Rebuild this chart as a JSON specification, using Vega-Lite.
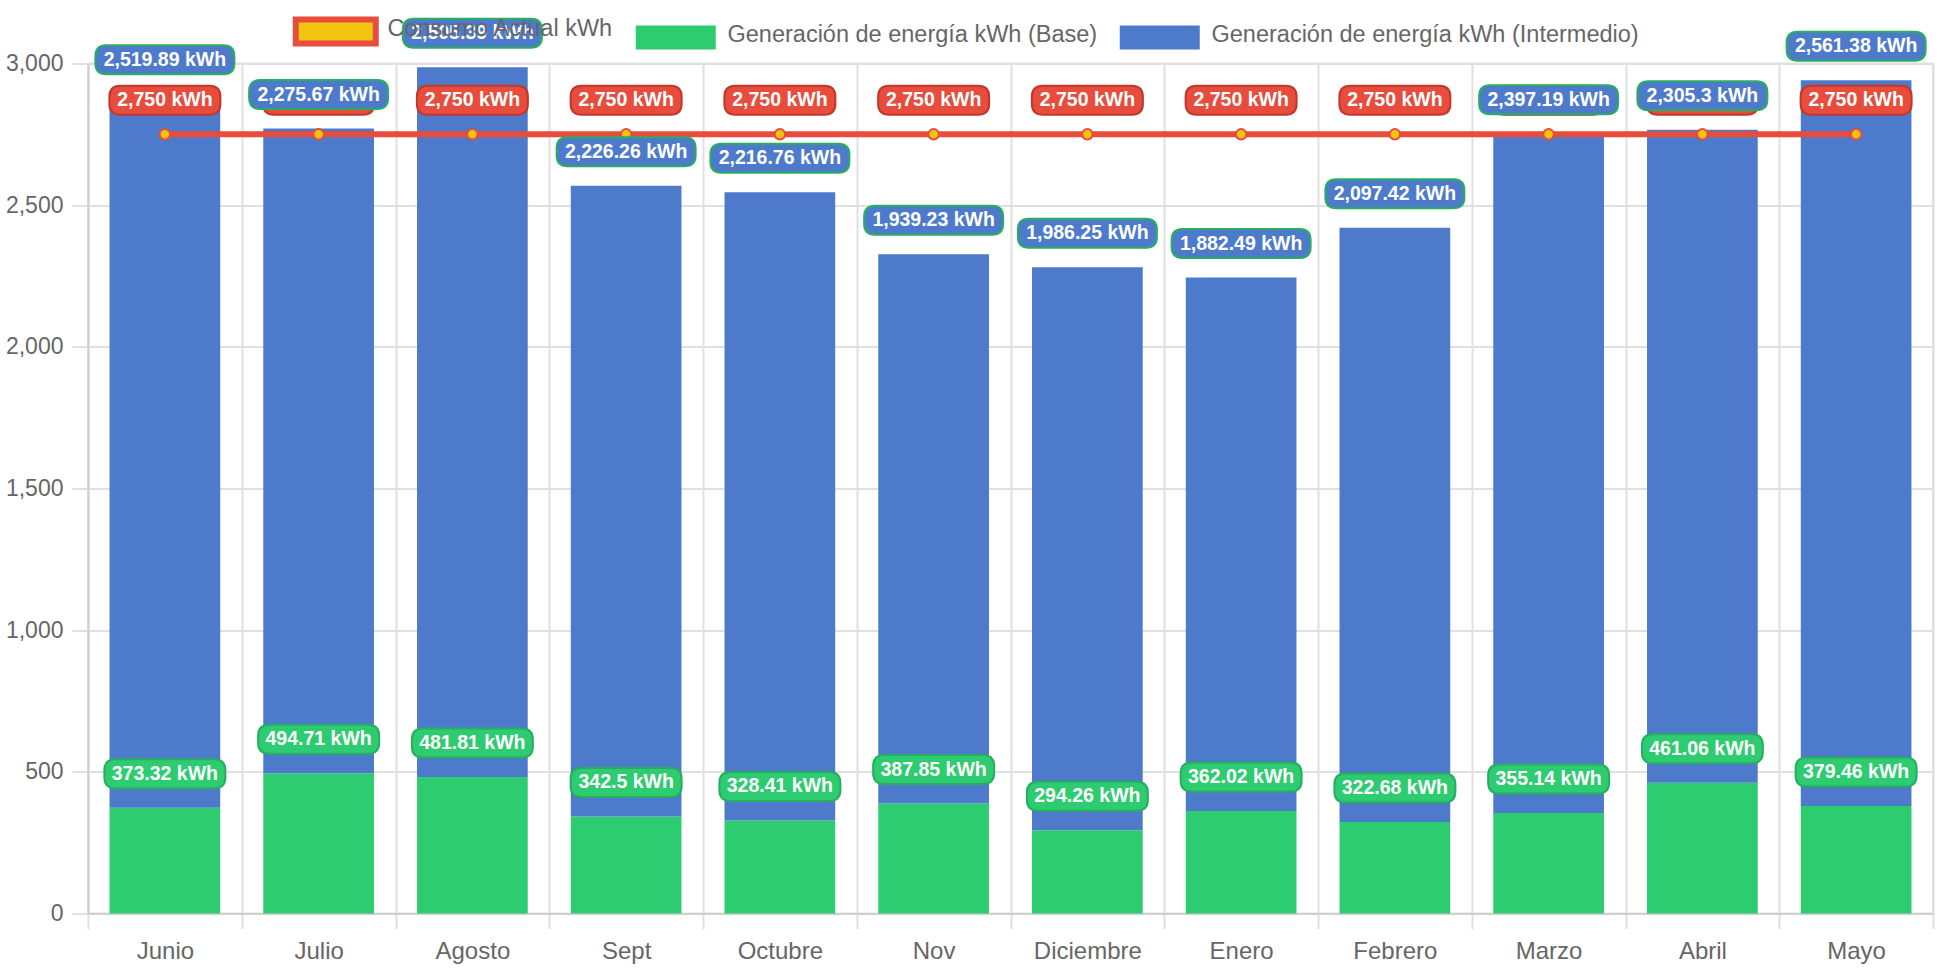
{
  "$schema": "https://vega.github.io/schema/vega-lite/v6.json",
  "width": 1845,
  "height": 850,
  "autosize": {"type": "none"},
  "padding": {"left": 88, "top": 63.5, "right": 9, "bottom": 56.5},
  "background": "white",
  "config": {
    "view": {"stroke": "#e0e0e0", "strokeWidth": 2},
    "font": "Liberation Sans"
  },
  "data": {"values": [
    {"mes": "Junio", "serie": "Consumo Actual kWh", "kwh": 2750},
    {"mes": "Julio", "serie": "Consumo Actual kWh", "kwh": 2750},
    {"mes": "Agosto", "serie": "Consumo Actual kWh", "kwh": 2750},
    {"mes": "Sept", "serie": "Consumo Actual kWh", "kwh": 2750},
    {"mes": "Octubre", "serie": "Consumo Actual kWh", "kwh": 2750},
    {"mes": "Nov", "serie": "Consumo Actual kWh", "kwh": 2750},
    {"mes": "Diciembre", "serie": "Consumo Actual kWh", "kwh": 2750},
    {"mes": "Enero", "serie": "Consumo Actual kWh", "kwh": 2750},
    {"mes": "Febrero", "serie": "Consumo Actual kWh", "kwh": 2750},
    {"mes": "Marzo", "serie": "Consumo Actual kWh", "kwh": 2750},
    {"mes": "Abril", "serie": "Consumo Actual kWh", "kwh": 2750},
    {"mes": "Mayo", "serie": "Consumo Actual kWh", "kwh": 2750},
    {"mes": "Junio", "serie": "Generación de energía kWh (Base)", "kwh": 373.32},
    {"mes": "Julio", "serie": "Generación de energía kWh (Base)", "kwh": 494.71},
    {"mes": "Agosto", "serie": "Generación de energía kWh (Base)", "kwh": 481.81},
    {"mes": "Sept", "serie": "Generación de energía kWh (Base)", "kwh": 342.5},
    {"mes": "Octubre", "serie": "Generación de energía kWh (Base)", "kwh": 328.41},
    {"mes": "Nov", "serie": "Generación de energía kWh (Base)", "kwh": 387.85},
    {"mes": "Diciembre", "serie": "Generación de energía kWh (Base)", "kwh": 294.26},
    {"mes": "Enero", "serie": "Generación de energía kWh (Base)", "kwh": 362.02},
    {"mes": "Febrero", "serie": "Generación de energía kWh (Base)", "kwh": 322.68},
    {"mes": "Marzo", "serie": "Generación de energía kWh (Base)", "kwh": 355.14},
    {"mes": "Abril", "serie": "Generación de energía kWh (Base)", "kwh": 461.06},
    {"mes": "Mayo", "serie": "Generación de energía kWh (Base)", "kwh": 379.46},
    {"mes": "Junio", "serie": "Generación de energía kWh (Intermedio)", "kwh": 2519.89},
    {"mes": "Julio", "serie": "Generación de energía kWh (Intermedio)", "kwh": 2275.67},
    {"mes": "Agosto", "serie": "Generación de energía kWh (Intermedio)", "kwh": 2505.39},
    {"mes": "Sept", "serie": "Generación de energía kWh (Intermedio)", "kwh": 2226.26},
    {"mes": "Octubre", "serie": "Generación de energía kWh (Intermedio)", "kwh": 2216.76},
    {"mes": "Nov", "serie": "Generación de energía kWh (Intermedio)", "kwh": 1939.23},
    {"mes": "Diciembre", "serie": "Generación de energía kWh (Intermedio)", "kwh": 1986.25},
    {"mes": "Enero", "serie": "Generación de energía kWh (Intermedio)", "kwh": 1882.49},
    {"mes": "Febrero", "serie": "Generación de energía kWh (Intermedio)", "kwh": 2097.42},
    {"mes": "Marzo", "serie": "Generación de energía kWh (Intermedio)", "kwh": 2397.19},
    {"mes": "Abril", "serie": "Generación de energía kWh (Intermedio)", "kwh": 2305.3},
    {"mes": "Mayo", "serie": "Generación de energía kWh (Intermedio)", "kwh": 2561.38}
  ]},
  "transform": [
    {"calculate": "datum.serie === 'Consumo Actual kWh' ? 'c' : 'g'", "as": "grp"},
    {"stack": "kwh", "groupby": ["mes", "grp"], "sort": [{"field": "serie", "order": "ascending"}], "as": ["y0", "y1"]},
    {"calculate": "format(datum.kwh, ',') + ' kWh'", "as": "label"},
    {"calculate": "length(datum.label)", "as": "len"}
  ],
  "encoding": {
    "x": {
      "field": "mes", "type": "nominal",
      "scale": {"domain": ["Junio", "Julio", "Agosto", "Sept", "Octubre", "Nov", "Diciembre", "Enero", "Febrero", "Marzo", "Abril", "Mayo"], "paddingInner": 0, "paddingOuter": 0},
      "axis": {"title": null, "labelAngle": 0, "tickBand": "extent", "grid": true, "gridColor": "#e0e0e0", "gridWidth": 2, "tickColor": "#e0e0e0", "tickWidth": 2, "tickSize": 15, "domainColor": "#d0d0d0", "domainWidth": 2, "labelFontSize": 24, "labelColor": "#666666", "labelFont": "Liberation Sans", "labelPadding": 11}
    },
    "y": {
      "field": "y1", "type": "quantitative",
      "scale": {"domain": [0, 3000], "nice": false, "zero": true},
      "axis": {"title": null, "values": [0, 500, 1000, 1500, 2000, 2500, 3000], "format": ",.0f", "grid": true, "gridColor": "#e0e0e0", "gridWidth": 2, "tickColor": "#e0e0e0", "tickWidth": 2, "tickSize": 16, "domainColor": "#d0d0d0", "domainWidth": 2, "labelFontSize": 23, "labelColor": "#666666", "labelFont": "Liberation Sans", "labelPadding": 9}
    }
  },
  "layer": [
    {
      "transform": [{"filter": "datum.grp === 'g'"}],
      "mark": {"type": "bar", "width": {"band": 0.72}},
      "encoding": {
        "y2": {"field": "y0"},
        "color": {
          "field": "serie", "type": "nominal",
          "scale": {"domain": ["Consumo Actual kWh", "Generación de energía kWh (Base)", "Generación de energía kWh (Intermedio)"], "range": ["#f1c40f", "#2ecc71", "#4e7acb"]},
          "legend": {
            "orient": "none", "legendX": 236, "legendY": -44, "direction": "horizontal", "title": null,
            "symbolType": "M-1,-0.3H1V0.3H-1Z", "symbolSize": 6400, "symbolOpacity": 1,
            "labelFontSize": 23.5, "labelFont": "Liberation Sans", "labelColor": "#666666", "labelOffset": 40, "labelLimit": 1000,
            "columnPadding": 21, "padding": 0,
            "encode": {
              "symbols": {"update": {"stroke": {"value": "#e74c3c"}, "strokeWidth": {"signal": "datum.value === 'Consumo Actual kWh' ? 6 : 0"}}},
              "labels": {"update": {"dy": {"value": -2}}}
            }
          }
        }
      }
    },
    {
      "transform": [{"filter": "datum.grp === 'c'"}],
      "mark": {"type": "line", "color": "#e74c3c", "strokeWidth": 6},
      "encoding": {}
    },
    {
      "transform": [{"filter": "datum.grp === 'c'"}],
      "mark": {"type": "point", "filled": true, "fill": "#f1c40f", "stroke": "#e74c3c", "strokeWidth": 2, "size": 110, "opacity": 1},
      "encoding": {}
    },
    {
      "transform": [{"filter": "datum.grp === 'c'"}],
      "mark": {"type": "point", "filled": true, "fill": "#e74c3c", "stroke": "#c0392b", "strokeWidth": 2, "size": 4, "opacity": 1, "yOffset": -34},
      "encoding": {"shape": {"field": "len", "type": "ordinal", "legend": null, "scale": {"domain": [9, 10, 11, 12], "range": [
        "M-44.5,-14.5H44.5Q55.5,-14.5 55.5,-3.5V3.5Q55.5,14.5 44.5,14.5H-44.5Q-55.5,14.5 -55.5,3.5V-3.5Q-55.5,-14.5 -44.5,-14.5Z",
        "M-49.5,-14.5H49.5Q60.5,-14.5 60.5,-3.5V3.5Q60.5,14.5 49.5,14.5H-49.5Q-60.5,14.5 -60.5,3.5V-3.5Q-60.5,-14.5 -49.5,-14.5Z",
        "M-54,-14.5H54Q65,-14.5 65,-3.5V3.5Q65,14.5 54,14.5H-54Q-65,14.5 -65,3.5V-3.5Q-65,-14.5 -54,-14.5Z",
        "M-58.5,-14.5H58.5Q69.5,-14.5 69.5,-3.5V3.5Q69.5,14.5 58.5,14.5H-58.5Q-69.5,14.5 -69.5,3.5V-3.5Q-69.5,-14.5 -58.5,-14.5Z"
      ]}}}
    },
    {
      "transform": [{"filter": "datum.grp === 'c'"}],
      "mark": {"type": "text", "color": "white", "fontWeight": "bold", "fontSize": 19.5, "font": "Liberation Sans", "align": "center", "baseline": "middle", "yOffset": -34},
      "encoding": {"text": {"field": "label"}}
    },
    {
      "transform": [{"filter": "datum.serie === 'Generación de energía kWh (Base)'"}],
      "mark": {"type": "point", "filled": true, "fill": "#2ecc71", "stroke": "#27ae60", "strokeWidth": 2, "size": 4, "opacity": 1, "yOffset": -34},
      "encoding": {"shape": {"field": "len", "type": "ordinal", "legend": null}}
    },
    {
      "transform": [{"filter": "datum.serie === 'Generación de energía kWh (Base)'"}],
      "mark": {"type": "text", "color": "white", "fontWeight": "bold", "fontSize": 19.5, "font": "Liberation Sans", "align": "center", "baseline": "middle", "yOffset": -34},
      "encoding": {"text": {"field": "label"}}
    },
    {
      "transform": [{"filter": "datum.serie === 'Generación de energía kWh (Intermedio)'"}],
      "mark": {"type": "point", "filled": true, "fill": "#4e7acb", "stroke": "#27ae60", "strokeWidth": 2, "size": 4, "opacity": 1, "yOffset": -34},
      "encoding": {"shape": {"field": "len", "type": "ordinal", "legend": null}}
    },
    {
      "transform": [{"filter": "datum.serie === 'Generación de energía kWh (Intermedio)'"}],
      "mark": {"type": "text", "color": "white", "fontWeight": "bold", "fontSize": 19.5, "font": "Liberation Sans", "align": "center", "baseline": "middle", "yOffset": -34},
      "encoding": {"text": {"field": "label"}}
    }
  ]
}
